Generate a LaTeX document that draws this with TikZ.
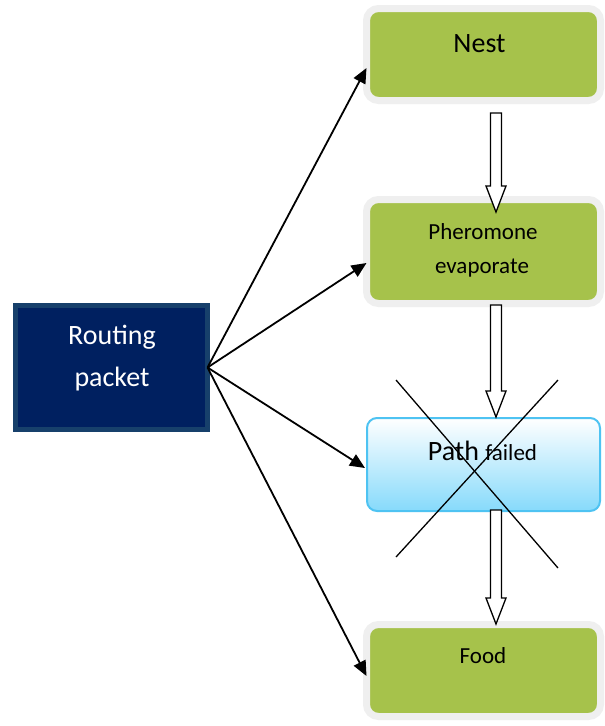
\documentclass[tikz,border=0pt]{standalone}
\usepackage{fontspec}
\setmainfont{Carlito}
\usetikzlibrary{arrows.meta,calc,backgrounds}
\definecolor{grn}{HTML}{A6C24B}
\definecolor{frm}{HTML}{EFEFEF}
\definecolor{navy}{HTML}{002060}
\definecolor{navyb}{HTML}{17406B}
\definecolor{skyb}{HTML}{4EC3F2}
\definecolor{skyf}{HTML}{86DAFB}
\definecolor{shd}{HTML}{A8AE94}
\definecolor{shdb}{HTML}{9AA6AE}
\newcommand\hollowarrow[2]{%
  \draw[hollowarr] let \p1=(#1), \p2=(#2) in
    (\x1-5.5pt,\y1) -- (\x1+5.5pt,\y1) -- (\x1+5.5pt,\y2+26pt) -- (\x1+10pt,\y2+26pt)
    -- (\x2,\y2) -- (\x1-10pt,\y2+26pt) -- (\x1-5.5pt,\y2+26pt) -- cycle;}
\begin{document}
\begin{tikzpicture}[x=1pt,y=-1pt,
  greenbox/.style={draw=frm, line width=7pt, fill=grn, rounded corners=12pt,
    minimum width=234pt, inner sep=0pt, outer sep=0pt},
  skybox/.style={draw=skyb, line width=2pt, top color=white, bottom color=skyf,
    rounded corners=10pt, minimum width=233pt, minimum height=93pt, inner sep=0pt, outer sep=0pt},
  navybox/.style={draw=navyb, line width=5pt, fill=navy, minimum width=192pt,
    minimum height=124pt, inner sep=0pt, outer sep=0pt},
  big/.style={font=\fontsize{28pt}{34pt}\selectfont, anchor=base, inner sep=0pt},
  mid/.style={font=\fontsize{23pt}{28pt}\selectfont, anchor=base, inner sep=0pt},
  conn/.style={line width=1.8pt, -{Triangle[length=15pt,width=13pt]}},
  hollowarr/.style={draw=black, fill=white, line width=1.3pt, line join=miter},
  crossline/.style={line width=1.3pt}]
\fill[white] (0,0) rectangle (605,726);
\useasboundingbox (0,0) rectangle (605,726);

% boxes
\node[navybox] (routing) at (111.5,367.5) {};
\node[greenbox, minimum height=92pt] (nest) at (483.5,54.5) {};
\node[greenbox, minimum height=104pt] (pher) at (483.5,251.5) {};
\node[skybox] (path) at (483.5,464.5) {};
\node[greenbox, minimum height=92pt] (food) at (483.5,670.5) {};

\begin{scope}[on background layer]
  \foreach \b in {nest,pher,food}
    \fill[shd, rounded corners=14pt] ($(\b.north west)+(-1,0)$) rectangle ($(\b.south east)+(5.5,7)$);
  \fill[shdb, rounded corners=10pt] ($(path.north west)+(2,3)$) rectangle ($(path.south east)+(3,3.5)$);
\end{scope}

% texts
\node[big, text=white] (routingT1) at (112,344) {Routing};
\node[big, text=white] (routingT2) at (112,386) {packet};
\node[big] (nestT) at (479.5,52) {Nest};
\node[mid] (pherT1) at (483,239) {Pheromone};
\node[mid] (pherT2) at (482,273) {evaporate};
\node[big] (pathT) at (482.5,460) {Path \fontsize{23pt}{28pt}\selectfont failed};
\node[mid] (foodT) at (483,663) {Food};

% hollow arrows
\coordinate (h1a) at ($(nest.south)+(12.5,12.5)$);
\coordinate (h1b) at ($(pher.north)+(12.5,12.5)$);
\coordinate (h2a) at ($(pher.south)+(12.5,1.5)$);
\coordinate (h2b) at ($(path.north)+(12.5,-1)$);
\coordinate (h3a) at ($(path.south)+(12.5,-1)$);
\coordinate (h3b) at ($(food.north)+(12.5,-0.5)$);
\hollowarrow{h1a}{h1b}
\hollowarrow{h2a}{h2b}
\hollowarrow{h3a}{h3b}

% cross
\coordinate (x1) at (396,380);
\coordinate (x2) at (558,568);
\coordinate (x3) at (558,380);
\coordinate (x4) at (396,557);
\draw[crossline] (x1) -- (x2);
\draw[crossline] (x3) -- (x4);

% connectors
\draw[conn] (routing.east) -- ($(nest.west)+(0,13.5)$);
\draw[conn] (routing.east) -- ($(pher.west)+(0,11.5)$);
\draw[conn] (routing.east) -- ($(path.west)+(-2,3.5)$);
\draw[conn] (routing.east) -- ($(food.west)+(0,5.5)$);
\end{tikzpicture}
\end{document}
